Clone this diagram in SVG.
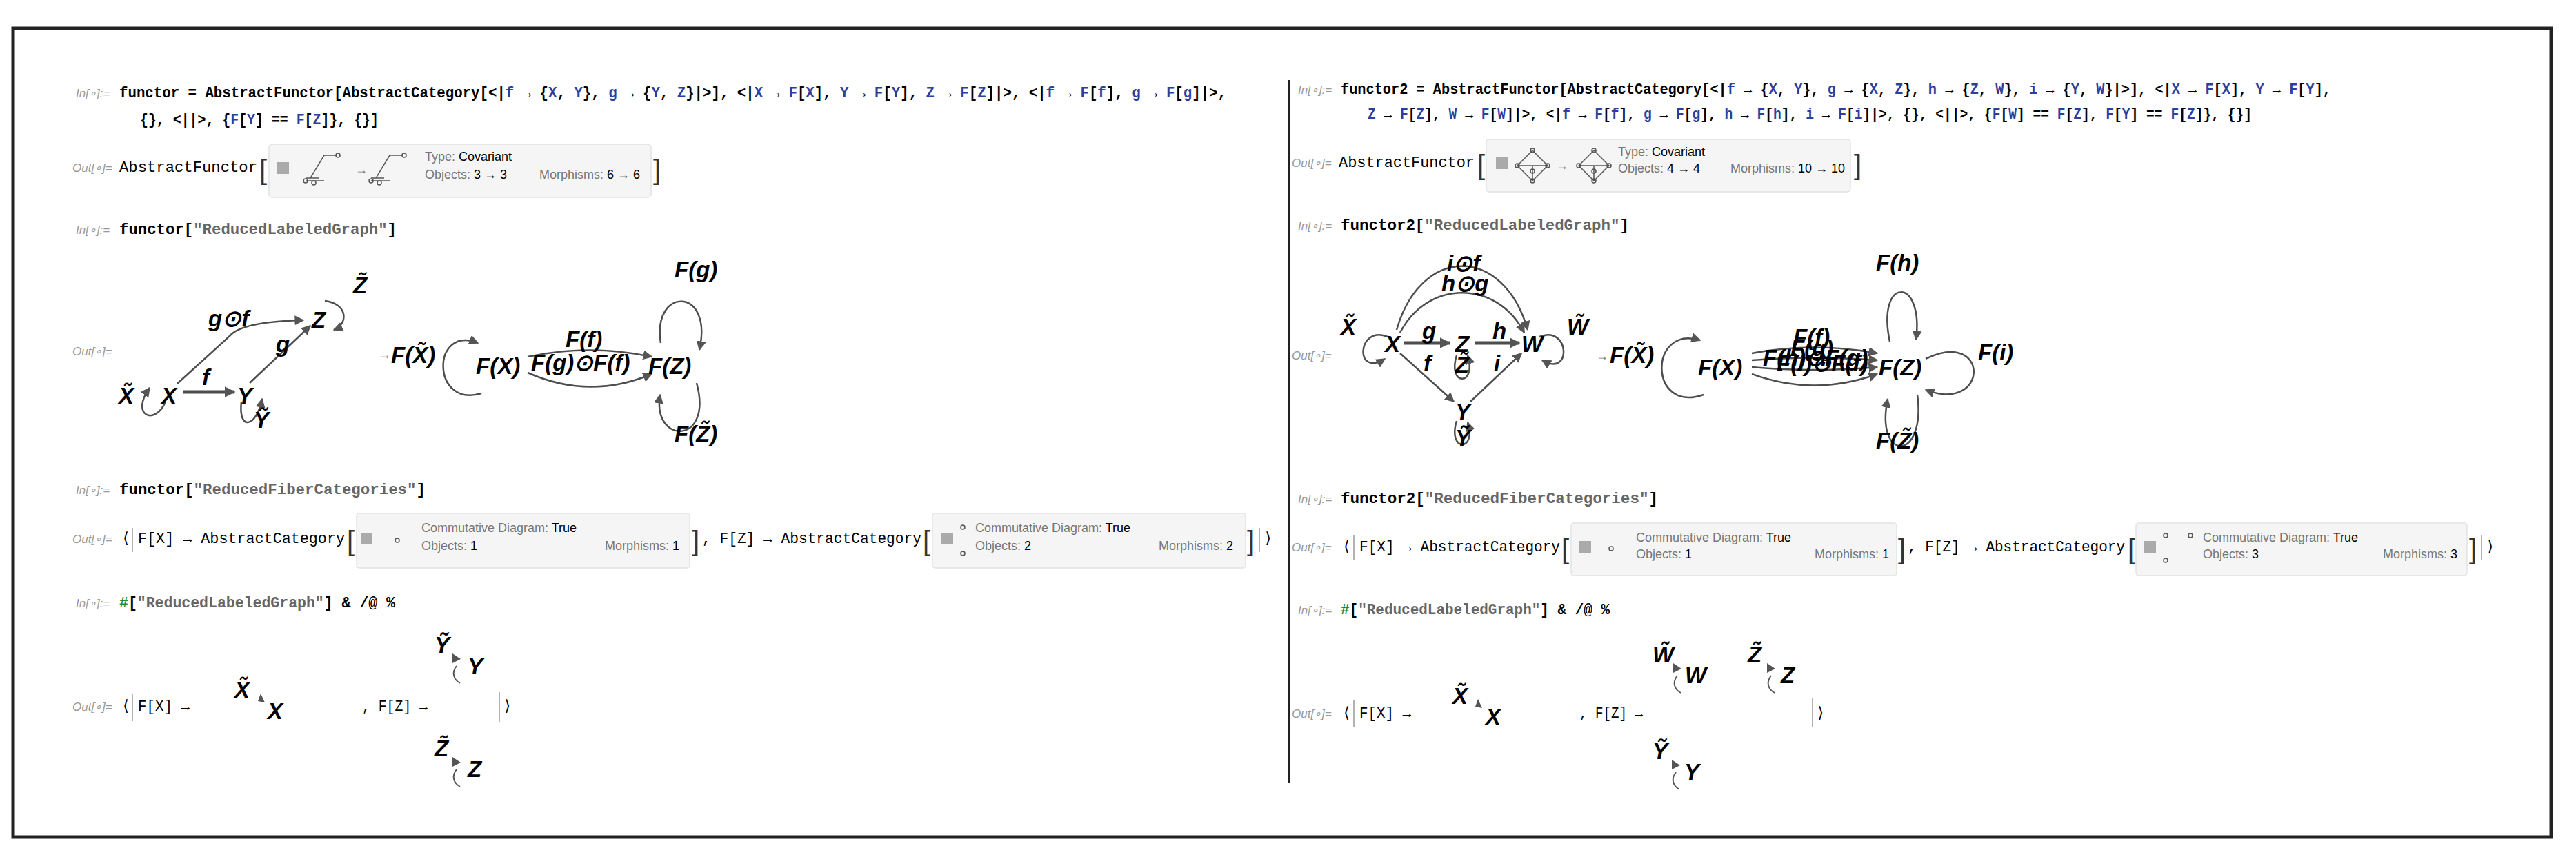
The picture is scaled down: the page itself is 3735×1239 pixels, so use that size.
<svg xmlns="http://www.w3.org/2000/svg" width="3735" height="1239" viewBox="0 0 3735 1239">
<defs>
<marker id="ahb" viewBox="0 0 10 10" refX="9" refY="5" markerWidth="16" markerHeight="16" orient="auto" markerUnits="userSpaceOnUse"><path d="M0,0 L10,5 L0,10 z" fill="#555"/></marker>
<marker id="ahs" viewBox="0 0 10 10" refX="9" refY="5" markerWidth="14" markerHeight="14" orient="auto" markerUnits="userSpaceOnUse"><path d="M0,0 L10,5 L0,10 z" fill="#555"/></marker>
<style>
.code{font-family:"Liberation Mono",monospace;font-size:22px;fill:#000;font-weight:bold}
.code.n{font-weight:normal}
.b{fill:#2d3f9e}
.gr{fill:#2a8a3a}
.lab{font-family:"Liberation Sans",sans-serif;font-size:17px;font-style:italic;fill:#999}
.sm{font-family:"Liberation Sans",sans-serif;font-size:18px;fill:#777}
.smk{fill:#000}
.box{fill:#f5f5f5;stroke:#e3e3e3;stroke-width:1.5}
.pl{fill:#aaa}
.gl{font-family:"Liberation Sans",sans-serif;font-size:33px;font-weight:bold;font-style:italic;fill:#000}
.gs{font-family:"Liberation Sans",sans-serif;font-size:33px;font-weight:bold;font-style:italic;fill:#000}
.e{fill:none;stroke:#4d4d4d;stroke-width:2.5;marker-end:url(#ahs)}
.et{fill:none;stroke:#4d4d4d;stroke-width:5;marker-end:url(#ahb)}
.icon{fill:none;stroke:#555;stroke-width:1.5}
.br{font-family:"Liberation Sans",sans-serif;font-size:40px;fill:#333}
</style>
</defs>
<rect x="0" y="0" width="3735" height="1239" fill="#fff"/>
<rect x="19" y="41" width="3680" height="1172" fill="none" stroke="#222" stroke-width="5"/>
<line x1="1869" y1="116" x2="1869" y2="1134" stroke="#222" stroke-width="4"/>

<g id="left-in1">
<text class="lab" x="110" y="141">In[∘]:=</text>
<text class="code" x="173" y="141" textLength="1605" lengthAdjust="spacingAndGlyphs">functor = AbstractFunctor[AbstractCategory[&lt;|<tspan class="b">f</tspan> → {<tspan class="b">X</tspan>, <tspan class="b">Y</tspan>}, <tspan class="b">g</tspan> → {<tspan class="b">Y</tspan>, <tspan class="b">Z</tspan>}|&gt;], &lt;|<tspan class="b">X</tspan> → <tspan class="b">F</tspan>[<tspan class="b">X</tspan>], <tspan class="b">Y</tspan> → <tspan class="b">F</tspan>[<tspan class="b">Y</tspan>], <tspan class="b">Z</tspan> → <tspan class="b">F</tspan>[<tspan class="b">Z</tspan>]|&gt;, &lt;|<tspan class="b">f</tspan> → <tspan class="b">F</tspan>[<tspan class="b">f</tspan>], <tspan class="b">g</tspan> → <tspan class="b">F</tspan>[<tspan class="b">g</tspan>]|&gt;,</text>
<text class="code" x="203" y="180" textLength="346" lengthAdjust="spacingAndGlyphs">{}, &lt;||&gt;, {<tspan class="b">F</tspan>[<tspan class="b">Y</tspan>] == <tspan class="b">F</tspan>[<tspan class="b">Z</tspan>]}, {}]</text>
</g>
<g id="left-out1">
<text class="lab" x="105" y="249">Out[∘]=</text>
<text class="code n" x="173" y="249" textLength="200" lengthAdjust="spacingAndGlyphs">AbstractFunctor</text>
<text class="br" x="376" y="260">[</text>
<rect class="box" x="390" y="209" width="554" height="77" rx="4"/>
<rect class="pl" x="402" y="235" width="17" height="17"/>
<path class="icon" d="M443 258 L462 258 M450 258 L470 225 L488 225 M443 262 L470 262"/><circle cx="443" cy="262" r="3" class="icon"/><circle cx="455" cy="265" r="3" class="icon"/><circle cx="490" cy="225" r="3" class="icon"/>
<text class="sm" x="515" y="252">→</text>
<path class="icon" d="M538 258 L557 258 M545 258 L565 225 L583 225 M538 262 L565 262"/><circle cx="538" cy="262" r="3" class="icon"/><circle cx="550" cy="265" r="3" class="icon"/><circle cx="586" cy="225" r="3" class="icon"/>
<text class="sm" x="616" y="233">Type: <tspan class="smk">Covariant</tspan></text>
<text class="sm" x="616" y="259">Objects: <tspan class="smk">3 → 3</tspan></text>
<text class="sm" x="782" y="259">Morphisms: <tspan class="smk">6 → 6</tspan></text>
<text class="br" x="947" y="260">]</text>
</g>
<g id="left-in2">
<text class="lab" x="110" y="339">In[∘]:=</text>
<text class="code" x="173" y="339" textLength="402" lengthAdjust="spacingAndGlyphs">functor[<tspan fill="#666">"ReducedLabeledGraph"</tspan>]</text>
<text class="lab" x="105" y="515">Out[∘]=</text>
</g>
<g id="connectors-left">
<line class="et" x1="265" y1="568" x2="340" y2="568"/>
<path class="e" d="M362 555 L450 472"/>
<path class="e" d="M257 556 L333 487 Q350 466 440 464"/>
<path class="e" d="M240 582 C225 618 188 602 217 562"/>
<path class="e" d="M350 582 C345 625 372 620 380 578"/>
<path class="e" d="M471 436 C505 440 505 470 484 478"/>
<path class="e" d="M698 570 C625 592 625 470 693 497"/>
<path class="e" d="M765 517 Q855 498 945 517"/>
<path class="e" d="M765 540 Q855 580 945 542"/>
<path class="e" d="M958 497 C945 415 1035 415 1014 507"/>
<path class="e" d="M1010 555 C1035 645 945 645 957 572"/>
</g>
<g id="lg-nodes">
<text class="gl" x="172" y="585">X̃</text>
<text class="gl" x="234" y="585">X</text>
<text class="gl" x="344" y="585">Y</text>
<text class="gl" x="368" y="620">Ỹ</text>
<text class="gl" x="452" y="475">Z</text>
<text class="gl" x="512" y="425">Z̃</text>
<text class="gl" x="302" y="473">g⊙f</text>
<text class="gl" x="400" y="510">g</text>
<text class="gl" x="293" y="558">f</text>
<text class="sm" x="549" y="520">→</text>
<text class="gl" x="567" y="526">F(X̃)</text>
<text class="gl" x="690" y="542">F(X)</text>
<text class="gl" x="940" y="542">F(Z)</text>
<text class="gl" x="820" y="503">F(f)</text>
<text class="gl" x="770" y="537">F(g)⊙F(f)</text>
<text class="gl" x="978" y="402">F(g)</text>
<text class="gl" x="978" y="640">F(Z̃)</text>
</g>
<g id="left-in3">
<text class="lab" x="110" y="716">In[∘]:=</text>
<text class="code" x="173" y="716" textLength="444" lengthAdjust="spacingAndGlyphs">functor[<tspan fill="#666">"ReducedFiberCategories"</tspan>]</text>
</g>
<g id="left-out3">
<text class="lab" x="105" y="787">Out[∘]=</text>
<text class="code n" x="176" y="787">⟨</text>
<line x1="192" y1="765" x2="192" y2="800" stroke="#999" stroke-width="1.5"/>
<text class="code n" x="200" y="787" textLength="300" lengthAdjust="spacingAndGlyphs">F[X] → AbstractCategory</text>
<text class="br" x="503" y="798">[</text>
<rect class="box" x="517" y="744" width="483" height="79" rx="4"/>
<rect class="pl" x="523" y="772" width="17" height="17"/>
<circle class="icon" cx="576" cy="783" r="3"/>
<text class="sm" x="611" y="771">Commutative Diagram: <tspan class="smk">True</tspan></text>
<text class="sm" x="611" y="797">Objects: <tspan class="smk">1</tspan></text>
<text class="sm" x="877" y="797">Morphisms: <tspan class="smk">1</tspan></text>
<text class="br" x="1003" y="798">]</text>
<text class="code n" x="1018" y="787" textLength="318" lengthAdjust="spacingAndGlyphs">, F[Z] → AbstractCategory</text>
<text class="br" x="1338" y="798">[</text>
<rect class="box" x="1352" y="744" width="454" height="79" rx="4"/>
<rect class="pl" x="1365" y="772" width="17" height="17"/>
<circle class="icon" cx="1396" cy="764" r="3"/><circle class="icon" cx="1396" cy="802" r="3"/>
<text class="sm" x="1414" y="771">Commutative Diagram: <tspan class="smk">True</tspan></text>
<text class="sm" x="1414" y="797">Objects: <tspan class="smk">2</tspan></text>
<text class="sm" x="1680" y="797">Morphisms: <tspan class="smk">2</tspan></text>
<text class="br" x="1808" y="798">]</text>
<line x1="1826" y1="765" x2="1826" y2="800" stroke="#999" stroke-width="1.5"/>
<text class="code n" x="1832" y="787">⟩</text>
</g>
<g id="left-in4">
<text class="lab" x="110" y="880">In[∘]:=</text>
<text class="code" x="173" y="880" textLength="400" lengthAdjust="spacingAndGlyphs"><tspan class="gr">#</tspan>[<tspan fill="#666">"ReducedLabeledGraph"</tspan>] &amp; /@ %</text>
</g>
<g id="left-out4">
<text class="lab" x="105" y="1030">Out[∘]=</text>
<text class="code n" x="176" y="1030">⟨</text>
<line x1="192" y1="1005" x2="192" y2="1045" stroke="#999" stroke-width="1.5"/>
<text class="code n" x="200" y="1030" textLength="75" lengthAdjust="spacingAndGlyphs">F[X] →</text>
<text class="gs" x="340" y="1011">X̃</text>
<text class="gs" x="388" y="1042">X</text>
<path d="M378 1005 L384 1018 L374 1016 z" fill="#555"/>
<text class="code n" x="525" y="1030" textLength="95" lengthAdjust="spacingAndGlyphs">, F[Z] →</text>
<line x1="724" y1="1003" x2="724" y2="1046" stroke="#999" stroke-width="1.5"/>
<text class="code n" x="729" y="1030">⟩</text>
<text class="gs" x="630" y="946">Ỹ</text>
<text class="gs" x="678" y="977">Y</text>
<path d="M656 947 L668 955 L656 961 z" fill="#555"/>
<path d="M662 965 C654 975 658 985 667 990" fill="none" stroke="#555" stroke-width="2"/>
<text class="gs" x="630" y="1096">Z̃</text>
<text class="gs" x="678" y="1126">Z</text>
<path d="M656 1097 L668 1105 L656 1111 z" fill="#555"/>
<path d="M662 1115 C654 1125 658 1135 667 1140" fill="none" stroke="#555" stroke-width="2"/>
</g>

<g id="right-in1">
<text class="lab" x="1882" y="136">In[∘]:=</text>
<text class="code" x="1944" y="136" textLength="1436" lengthAdjust="spacingAndGlyphs">functor2 = AbstractFunctor[AbstractCategory[&lt;|<tspan class="b">f</tspan> → {<tspan class="b">X</tspan>, <tspan class="b">Y</tspan>}, <tspan class="b">g</tspan> → {<tspan class="b">X</tspan>, <tspan class="b">Z</tspan>}, <tspan class="b">h</tspan> → {<tspan class="b">Z</tspan>, <tspan class="b">W</tspan>}, <tspan class="b">i</tspan> → {<tspan class="b">Y</tspan>, <tspan class="b">W</tspan>}|&gt;], &lt;|<tspan class="b">X</tspan> → <tspan class="b">F</tspan>[<tspan class="b">X</tspan>], <tspan class="b">Y</tspan> → <tspan class="b">F</tspan>[<tspan class="b">Y</tspan>],</text>
<text class="code" x="1983" y="172" textLength="1282" lengthAdjust="spacingAndGlyphs"><tspan class="b">Z</tspan> → <tspan class="b">F</tspan>[<tspan class="b">Z</tspan>], <tspan class="b">W</tspan> → <tspan class="b">F</tspan>[<tspan class="b">W</tspan>]|&gt;, &lt;|<tspan class="b">f</tspan> → <tspan class="b">F</tspan>[<tspan class="b">f</tspan>], <tspan class="b">g</tspan> → <tspan class="b">F</tspan>[<tspan class="b">g</tspan>], <tspan class="b">h</tspan> → <tspan class="b">F</tspan>[<tspan class="b">h</tspan>], <tspan class="b">i</tspan> → <tspan class="b">F</tspan>[<tspan class="b">i</tspan>]|&gt;, {}, &lt;||&gt;, {<tspan class="b">F</tspan>[<tspan class="b">W</tspan>] == <tspan class="b">F</tspan>[<tspan class="b">Z</tspan>], <tspan class="b">F</tspan>[<tspan class="b">Y</tspan>] == <tspan class="b">F</tspan>[<tspan class="b">Z</tspan>]}, {}]</text>
</g>
<g id="right-out1">
<text class="lab" x="1873" y="242">Out[∘]=</text>
<text class="code n" x="1941" y="242" textLength="197" lengthAdjust="spacingAndGlyphs">AbstractFunctor</text>
<text class="br" x="2142" y="253">[</text>
<rect class="box" x="2155" y="202" width="528" height="76" rx="4"/>
<rect class="pl" x="2169" y="228" width="17" height="17"/>
<g class="icon"><path d="M2200 240 L2222 218 L2244 240 L2222 262 z M2200 240 L2244 240 M2222 240 L2222 262"/><circle cx="2222" cy="218" r="3"/><circle cx="2200" cy="240" r="3"/><circle cx="2244" cy="240" r="3"/><circle cx="2222" cy="248" r="3"/><circle cx="2222" cy="262" r="3"/></g>
<text class="sm" x="2256" y="246">→</text>
<g class="icon"><path d="M2289 240 L2311 218 L2333 240 L2311 262 z M2289 240 L2333 240 M2311 240 L2311 262"/><circle cx="2311" cy="218" r="3"/><circle cx="2289" cy="240" r="3"/><circle cx="2333" cy="240" r="3"/><circle cx="2311" cy="248" r="3"/><circle cx="2311" cy="262" r="3"/></g>
<text class="sm" x="2346" y="226">Type: <tspan class="smk">Covariant</tspan></text>
<text class="sm" x="2346" y="250">Objects: <tspan class="smk">4 → 4</tspan></text>
<text class="sm" x="2509" y="250">Morphisms: <tspan class="smk">10 → 10</tspan></text>
<text class="br" x="2688" y="253">]</text>
</g>
<g id="right-in2">
<text class="lab" x="1882" y="333">In[∘]:=</text>
<text class="code" x="1944" y="333" textLength="418" lengthAdjust="spacingAndGlyphs">functor2[<tspan fill="#666">"ReducedLabeledGraph"</tspan>]</text>
<text class="lab" x="1873" y="521">Out[∘]=</text>
</g>
<g id="connectors-right">
<line class="et" x1="2036" y1="497" x2="2102" y2="497"/>
<line class="et" x1="2138" y1="497" x2="2203" y2="497"/>
<path class="e" d="M2030 512 L2108 582"/>
<path class="e" d="M2132 582 L2206 512"/>
<path class="e" d="M2025 478 C2060 355 2180 355 2215 478"/>
<path class="e" d="M2030 482 C2070 405 2170 405 2210 482"/>
<path class="e" d="M2012 488 C1968 470 1963 548 2008 520"/>
<path class="e" d="M2232 488 C2276 470 2280 548 2236 522"/>
<path class="e" d="M2112 515 C2098 560 2142 560 2128 515"/>
<path class="e" d="M2112 610 C2098 655 2142 655 2128 612"/>
<path class="e" d="M2470 572 C2390 600 2390 470 2465 493"/>
<path class="e" d="M2540 512 Q2630 495 2722 512"/>
<path class="e" d="M2540 522 Q2630 515 2722 522"/>
<path class="e" d="M2540 532 Q2630 540 2722 532"/>
<path class="e" d="M2540 542 Q2630 575 2722 542"/>
<path class="e" d="M2740 495 C2720 400 2790 400 2778 492"/>
<path class="e" d="M2792 520 C2885 475 2885 600 2792 565"/>
<path class="e" d="M2780 572 C2793 670 2718 670 2737 578"/>
</g>
<g id="rg-nodes">
<text class="gl" x="1944" y="485">X̃</text>
<text class="gl" x="2008" y="510">X</text>
<text class="gl" x="2110" y="510">Z</text>
<text class="gl" x="2206" y="510">W</text>
<text class="gl" x="2272" y="485">W̃</text>
<text class="gl" x="2110" y="608">Y</text>
<text class="gl" x="2110" y="646">Ỹ</text>
<text class="gl" x="2110" y="540">Z̃</text>
<text class="gl" x="2098" y="393">i⊙f</text>
<text class="gl" x="2090" y="422">h⊙g</text>
<text class="gl" x="2062" y="491">g</text>
<text class="gl" x="2164" y="491">h</text>
<text class="gl" x="2064" y="538">f</text>
<text class="gl" x="2166" y="538">i</text>
<text class="sm" x="2314" y="522">→</text>
<text class="gl" x="2334" y="526">F(X̃)</text>
<text class="gl" x="2462" y="544">F(X)</text>
<text class="gl" x="2724" y="544">F(Z)</text>
<text class="gl" x="2600" y="500">F(f)</text>
<text class="gl" x="2596" y="516">F(g)</text>
<text class="gl" x="2556" y="530">F(h)⊙F(g)</text>
<text class="gl" x="2576" y="538">F(i)⊙F(f)</text>
<text class="gl" x="2720" y="392">F(h)</text>
<text class="gl" x="2868" y="522">F(i)</text>
<text class="gl" x="2720" y="650">F(Z̃)</text>
</g>
<g id="right-in3">
<text class="lab" x="1882" y="729">In[∘]:=</text>
<text class="code" x="1944" y="729" textLength="460" lengthAdjust="spacingAndGlyphs">functor2[<tspan fill="#666">"ReducedFiberCategories"</tspan>]</text>
</g>
<g id="right-out3">
<text class="lab" x="1873" y="799">Out[∘]=</text>
<text class="code n" x="1946" y="799">⟨</text>
<line x1="1963" y1="776" x2="1963" y2="812" stroke="#999" stroke-width="1.5"/>
<text class="code n" x="1971" y="799" textLength="291" lengthAdjust="spacingAndGlyphs">F[X] → AbstractCategory</text>
<text class="br" x="2264" y="810">[</text>
<rect class="box" x="2278" y="758" width="472" height="76" rx="4"/>
<rect class="pl" x="2290" y="784" width="17" height="17"/>
<circle class="icon" cx="2336" cy="795" r="3"/>
<text class="sm" x="2372" y="785">Commutative Diagram: <tspan class="smk">True</tspan></text>
<text class="sm" x="2372" y="809">Objects: <tspan class="smk">1</tspan></text>
<text class="sm" x="2631" y="809">Morphisms: <tspan class="smk">1</tspan></text>
<text class="br" x="2752" y="810">]</text>
<text class="code n" x="2766" y="799" textLength="315" lengthAdjust="spacingAndGlyphs">, F[Z] → AbstractCategory</text>
<text class="br" x="3085" y="810">[</text>
<rect class="box" x="3097" y="758" width="480" height="76" rx="4"/>
<rect class="pl" x="3109" y="784" width="17" height="17"/>
<circle class="icon" cx="3140" cy="776" r="3"/><circle class="icon" cx="3176" cy="776" r="3"/><circle class="icon" cx="3140" cy="812" r="3"/>
<text class="sm" x="3194" y="785">Commutative Diagram: <tspan class="smk">True</tspan></text>
<text class="sm" x="3194" y="809">Objects: <tspan class="smk">3</tspan></text>
<text class="sm" x="3455" y="809">Morphisms: <tspan class="smk">3</tspan></text>
<text class="br" x="3580" y="810">]</text>
<line x1="3598" y1="776" x2="3598" y2="812" stroke="#999" stroke-width="1.5"/>
<text class="code n" x="3604" y="799">⟩</text>
</g>
<g id="right-in4">
<text class="lab" x="1882" y="890">In[∘]:=</text>
<text class="code" x="1944" y="890" textLength="390" lengthAdjust="spacingAndGlyphs"><tspan class="gr">#</tspan>[<tspan fill="#666">"ReducedLabeledGraph"</tspan>] &amp; /@ %</text>
</g>
<g id="right-out4">
<text class="lab" x="1873" y="1040">Out[∘]=</text>
<text class="code n" x="1946" y="1040">⟨</text>
<line x1="1963" y1="1014" x2="1963" y2="1054" stroke="#999" stroke-width="1.5"/>
<text class="code n" x="1971" y="1040" textLength="75" lengthAdjust="spacingAndGlyphs">F[X] →</text>
<text class="gs" x="2106" y="1020">X̃</text>
<text class="gs" x="2154" y="1050">X</text>
<path d="M2143 1013 L2149 1026 L2139 1024 z" fill="#555"/>
<text class="code n" x="2290" y="1040" textLength="92" lengthAdjust="spacingAndGlyphs">, F[Z] →</text>
<line x1="2628" y1="1012" x2="2628" y2="1054" stroke="#999" stroke-width="1.5"/>
<text class="code n" x="2633" y="1040">⟩</text>
<text class="gs" x="2396" y="960">W̃</text>
<text class="gs" x="2443" y="990">W</text>
<path d="M2426 961 L2438 969 L2426 975 z" fill="#555"/>
<path d="M2432 979 C2424 989 2428 999 2437 1004" fill="none" stroke="#555" stroke-width="2"/>
<text class="gs" x="2534" y="960">Z̃</text>
<text class="gs" x="2582" y="990">Z</text>
<path d="M2562 961 L2574 969 L2562 975 z" fill="#555"/>
<path d="M2568 979 C2560 989 2564 999 2573 1004" fill="none" stroke="#555" stroke-width="2"/>
<text class="gs" x="2396" y="1100">Ỹ</text>
<text class="gs" x="2442" y="1130">Y</text>
<path d="M2424 1101 L2436 1109 L2424 1115 z" fill="#555"/>
<path d="M2430 1119 C2422 1129 2426 1139 2435 1144" fill="none" stroke="#555" stroke-width="2"/>
</g>
</svg>
